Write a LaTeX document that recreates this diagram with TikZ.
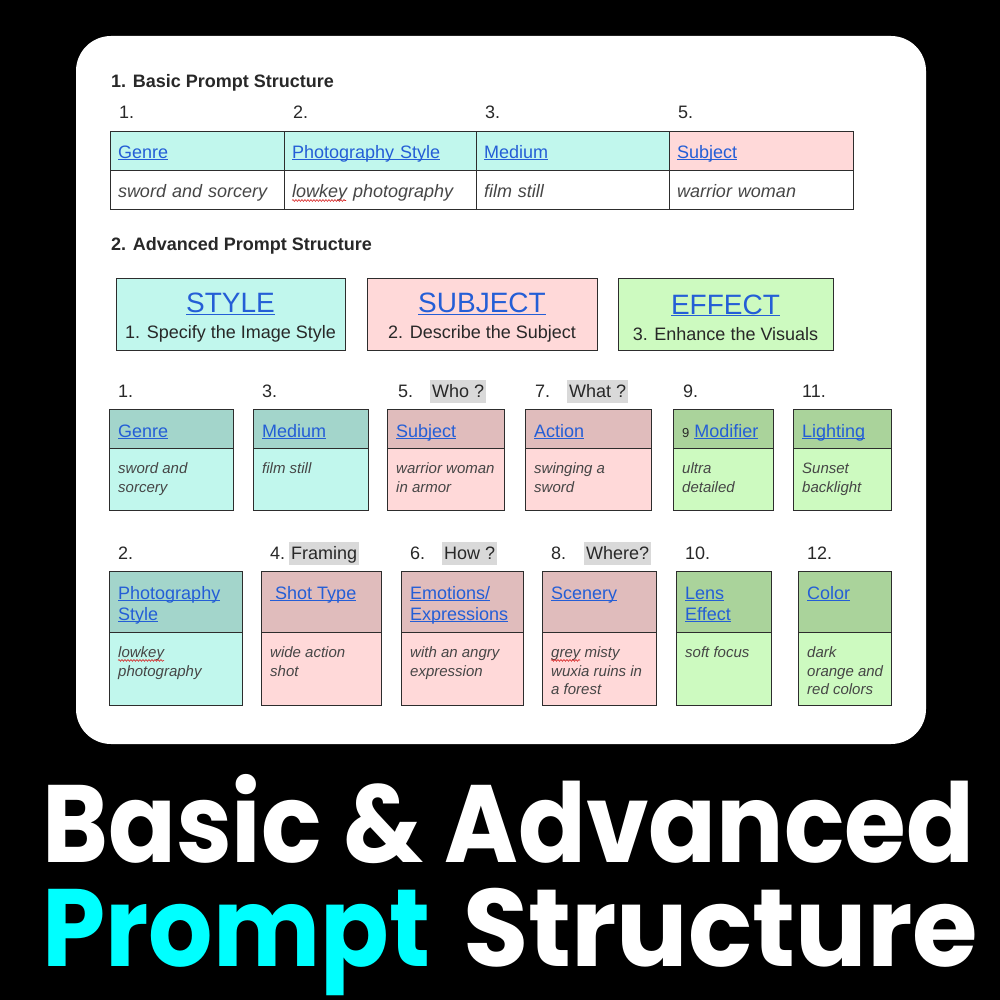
\documentclass[tikz,border=0pt]{standalone}
\usepackage{fontspec}
\setmainfont{Liberation Sans}
\newfontfamily\postfont{Poppins}
\usetikzlibrary{positioning, calc, decorations.pathmorphing}
\definecolor{linkblue}{RGB}{36,94,214}
\definecolor{inkgray}{RGB}{40,40,40}
\definecolor{bodygray}{RGB}{70,70,70}
\definecolor{edgegray}{RGB}{45,45,45}
\definecolor{markgray}{RGB}{217,217,217}
\definecolor{squigred}{RGB}{215,30,30}
\definecolor{tealhead}{RGB}{163,213,203}
\definecolor{tealbody}{RGB}{193,247,237}
\definecolor{pinkhead}{RGB}{224,188,188}
\definecolor{pinkbody}{RGB}{255,217,217}
\definecolor{greenhead}{RGB}{170,211,155}
\definecolor{greenbody}{RGB}{205,250,192}
\definecolor{titlecyan}{RGB}{0,255,255}

% link text: blue, underlined through the descenders
\newcommand{\lnk}[1]{\textcolor{linkblue}{\setbox0=\hbox{#1}\rlap{\rule[-2pt]{\wd0}{1.1pt}}\box0}}
% one card: name, x, y, width, head height, body height, colour, head, body
\newcommand{\promptcard}[9]{%
  \node[cardhead, fill=#7head, minimum width=#4pt, minimum height=#5pt] (#1h) at (#2,#3) {};
  \node[cardbody, fill=#7body, minimum width=#4pt, minimum height=#6pt, below=0pt of #1h] (#1b) {};
  \node[headtxt] (#1ht) at ($(#1h.north west)+(9,13.3)$) {\strut#8};
  \node[bodytxt] (#1bt) at ($(#1b.north west)+(9,12.4)$) {\strut#9};}

\begin{document}
\begin{tikzpicture}[x=1pt, y=-1pt,
    edge/.style={draw=edgegray, line width=1pt},
    tcell/.style={edge, outer sep=0pt, inner xsep=8pt, inner ysep=0pt, minimum height=39pt,
                  text height=16pt, text depth=2pt, align=left, font=\fontsize{18}{21}\selectfont},
    tbody/.style={tcell, fill=white, text=bodygray, font=\fontsize{18}{21}\selectfont\itshape},
    secthead/.style={anchor=base west, inner sep=0pt, text=inkgray, font=\fontsize{18}{21}\selectfont\bfseries},
    num/.style={anchor=base west, inner sep=0pt, text=inkgray, font=\fontsize{18}{21}\selectfont},
    tag/.style={anchor=base west, fill=markgray, inner xsep=2pt, inner ysep=0pt, text height=17pt,
                text depth=6pt, text=inkgray, font=\fontsize{18}{21}\selectfont},
    bigbox/.style={edge, anchor=north west, outer sep=0pt, minimum width=229pt, minimum height=72pt,
                   align=center, text=inkgray, font=\fontsize{18}{26}\selectfont},
    cardhead/.style={edge, anchor=north west, outer sep=0pt, inner sep=0pt},
    cardbody/.style={edge, outer sep=0pt, inner sep=0pt},
    headtxt/.style={anchor=north west, inner sep=0pt, align=left, font=\fontsize{18}{21}\selectfont},
    bodytxt/.style={anchor=north west, inner sep=0pt, align=left, text=bodygray,
                    font=\fontsize{15}{18.5}\selectfont\itshape},
    wave/.style={draw=squigred, line width=0.6pt, decorate,
                 decoration={snake, amplitude=0.9pt, segment length=3pt}},
    bigtitle/.style={anchor=base west, inner sep=0pt, text=white,
                     font=\postfont\bfseries\fontsize{110}{110}\selectfont}]
  \useasboundingbox (0,0) rectangle (1000,1000);
  \fill[black] (0,0) rectangle (1000,1000);
  \fill[white, rounded corners=35pt] (76,36) rectangle (926,744);

  % basic structure
  \node[secthead] (basichead) at (111,88) {1. Basic Prompt Structure};
  \node[num] (n1) at (119,119) {1.};
  \node[num] (n2) at (293,119) {2.};
  \node[num] (n3) at (485,119) {3.};
  \node[num] (n5) at (678,119) {5.};
  \node[tcell, fill=tealbody, text width=158pt, anchor=north west] (genrecol) at (110,132) {\lnk{Genre}};
  \node[tcell, fill=tealbody, text width=176pt, right=0pt of genrecol] (stylecol) {\lnk{Photography Style}};
  \node[tcell, fill=tealbody, text width=177pt, right=0pt of stylecol] (mediumcol) {\lnk{Medium}};
  \node[tcell, fill=pinkbody, text width=168pt, right=0pt of mediumcol] (subjectcol) {\lnk{Subject}};
  \node[tbody, text width=158pt, below=0pt of genrecol] (genreval) {sword and sorcery};
  \node[tbody, text width=176pt, below=0pt of stylecol] (styleval) {lowkey photography};
  \node[tbody, text width=177pt, below=0pt of mediumcol] (mediumval) {film still};
  \node[tbody, text width=168pt, below=0pt of subjectcol] (subjectval) {warrior woman};
  \path[wave] ($(styleval.west)+(8,10)$) -- ++(54,0);

  % advanced structure
  \node[secthead] (advhead) at (111,251) {2. Advanced Prompt Structure};
  \node[bigbox, fill=tealbody] (stylebox) at (116,278)
       {\rule{0pt}{27pt}{\fontsize{28}{30}\selectfont\lnk{STYLE}}\\1. Specify the Image Style};
  \node[bigbox, fill=pinkbody, minimum width=230pt, right=22pt of stylebox] (subjectbox)
       {\rule{0pt}{27pt}{\fontsize{28}{30}\selectfont\lnk{SUBJECT}}\\2. Describe the Subject};
  \node[bigbox, fill=greenbody, minimum width=215pt, right=21pt of subjectbox] (effectbox)
       {\rule{0pt}{27pt}{\fontsize{28}{30}\selectfont\lnk{EFFECT}}\\3. Enhance the Visuals};

  % first row of cards
  \node[num] (a1) at (118,397) {1.};
  \node[num] (a3) at (262,397) {3.};
  \node[num] (a5) at (398,397) {5.};
  \node[tag] (who) at (430,397) {Who ?};
  \node[num] (a7) at (535,397) {7.};
  \node[tag] (what) at (567,397) {What ?};
  \node[num] (a9) at (683,397) {9.};
  \node[num] (a11) at (802,397) {11.};
  \promptcard{genre}{109}{409}{124}{39}{62}{teal}{\lnk{Genre}}{sword and\\sorcery}
  \promptcard{medium}{253}{409}{115}{39}{62}{teal}{\lnk{Medium}}{film still}
  \promptcard{subject}{387}{409}{117}{39}{62}{pink}{\lnk{Subject}}{warrior woman\\in armor}
  \promptcard{action}{525}{409}{126}{39}{62}{pink}{\lnk{Action}}{swinging a\\sword}
  \promptcard{modifier}{673}{409}{100}{39}{62}{green}{{\fontsize{13}{15}\selectfont\color{inkgray}9} \lnk{Modifier}}{ultra\\detailed}
  \promptcard{lighting}{793}{409}{98}{39}{62}{green}{\lnk{Lighting}}{Sunset\\backlight}

  % second row of cards
  \node[num] (b2) at (118,559) {2.};
  \node[num] (b4) at (270,559) {4.};
  \node[tag] (framing) at (289,559) {Framing};
  \node[num] (b6) at (410,559) {6.};
  \node[tag] (how) at (442,559) {How ?};
  \node[num] (b8) at (551,559) {8.};
  \node[tag] (where) at (584,559) {Where?};
  \node[num] (b10) at (685,559) {10.};
  \node[num] (b12) at (807,559) {12.};
  \promptcard{photo}{109}{571}{133}{61}{73}{teal}{\lnk{Photography}\\\lnk{Style}}{lowkey\\photography}
  \promptcard{shot}{261}{571}{120}{61}{73}{pink}{\lnk{\ Shot Type}}{wide action\\shot}
  \promptcard{emotion}{401}{571}{122}{61}{73}{pink}{\lnk{Emotions/}\\\lnk{Expressions}}{with an angry\\expression}
  \promptcard{scenery}{542}{571}{114}{61}{73}{pink}{\lnk{Scenery}}{grey misty\\wuxia ruins in\\a forest}
  \promptcard{lens}{676}{571}{95}{61}{73}{green}{\lnk{Lens}\\\lnk{Effect}}{soft focus}
  \promptcard{color}{798}{571}{93}{61}{73}{green}{\lnk{Color}}{dark\\orange and\\red colors}
  \path[wave] ($(photobt.north west)+(0,16)$) -- ++(46,0);
  \path[wave] ($(scenerybt.north west)+(0,16)$) -- ++(29,0);

  % big title
  \node[bigtitle] (titletop) at (42,862) {\scalebox{0.91}[1]{Basic \& Advanced}};
  \node[bigtitle] (titlebottom) at (42,966)
       {\scalebox{0.92}[1]{\textcolor{titlecyan}{Prompt}}\hspace{33pt}\scalebox{0.965}[1]{Structure}};
\end{tikzpicture}
\end{document}
